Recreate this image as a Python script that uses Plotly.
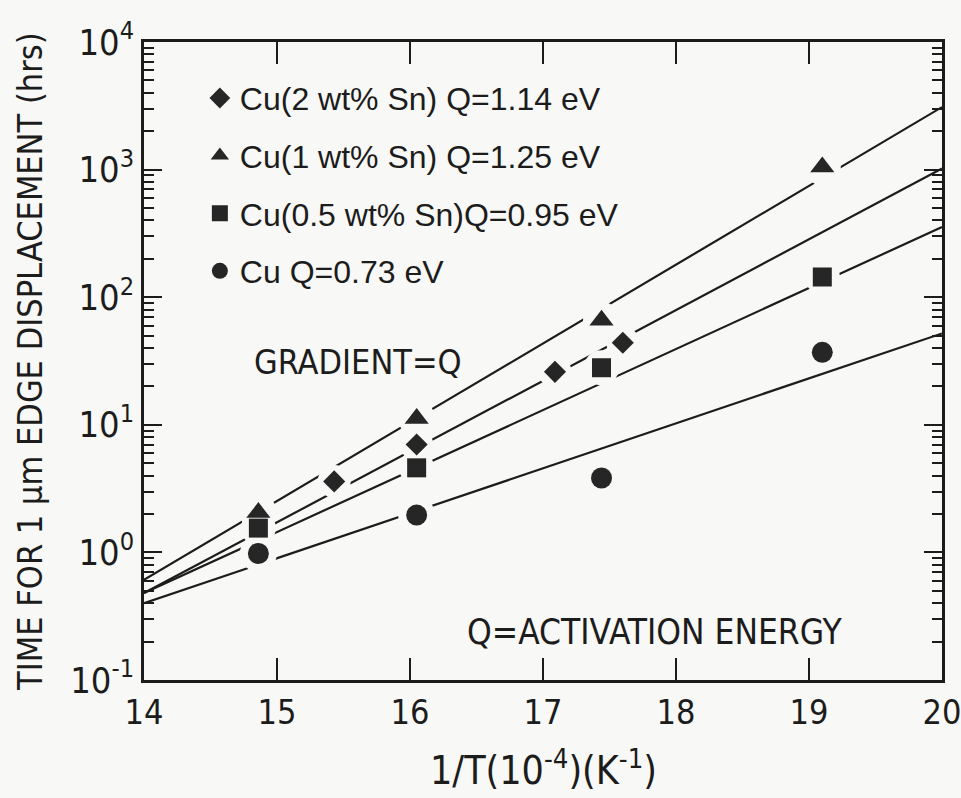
import plotly.graph_objects as go

# Measured times for 1 um edge displacement vs reciprocal temperature
x_sn2 = [15.43, 16.05, 17.09, 17.6]
t_sn2 = [3.6, 7.0, 26, 44]

x_sn1 = [14.86, 16.05, 17.44, 19.1]
t_sn1 = [2.05, 11.2, 66, 1050]

x_sn05 = [14.86, 16.05, 17.44, 19.1]
t_sn05 = [1.55, 4.6, 28, 144]

x_cu = [14.86, 16.05, 17.44, 19.1]
t_cu = [0.98, 1.96, 3.83, 37]

# Arrhenius fit lines, evaluated at the ends of the 1/T range
fit_x = [14, 20]
fit_sn2 = [0.48, 1020]
fit_sn1 = [0.61, 3090]
fit_sn05 = [0.48, 355]
fit_cu = [0.40, 52]

names = [
    "Cu(2 wt% Sn) Q=1.14 eV",
    "Cu(1 wt% Sn) Q=1.25 eV",
    "Cu(0.5 wt% Sn)Q=0.95 eV",
    "Cu Q=0.73 eV",
]

x_ticks = [14, 15, 16, 17, 18, 19, 20]
y_ticks = [0.1, 1, 10, 100, 1000, 10000]
y_ticktext = ["10<sup>-1</sup>", "10<sup>0</sup>", "10<sup>1</sup>",
              "10<sup>2</sup>", "10<sup>3</sup>", "10<sup>4</sup>"]

X_RANGE = [14, 20]
Y_LOG_RANGE = [-1, 4]

INK = "#1c1c1c"
BG = "#f8f8f6"
NARROW = "Liberation Sans Narrow, DejaVu Sans Condensed, Liberation Sans, sans-serif"
WIDE = "Liberation Sans, Arial, sans-serif"

series = [
    (x_sn2, t_sn2, fit_sn2, "diamond", 17),
    (x_sn1, t_sn1, fit_sn1, "triangle-up", 21),
    (x_sn05, t_sn05, fit_sn05, "square", 19),
    (x_cu, t_cu, fit_cu, "circle", 21),
]

minor_vals = []
for dec in [0.1, 1, 10, 100, 1000]:
    for m in range(2, 10):
        minor_vals.append(m * dec)

fig = go.Figure()

# fit lines
for xs, ts, fit, sym, size in series:
    fig.add_trace(go.Scatter(x=fit_x, y=fit, mode="lines",
                             line=dict(color=INK, width=2.2),
                             showlegend=False, hoverinfo="skip"))

# background-coloured halos break the lines around each point
for xs, ts, fit, sym, size in series:
    fig.add_trace(go.Scatter(x=xs, y=ts, mode="markers",
                             marker=dict(symbol="circle", size=size + 16, color=BG),
                             showlegend=False, hoverinfo="skip"))

# data points
for (xs, ts, fit, sym, size), name in zip(series, names):
    fig.add_trace(go.Scatter(x=xs, y=ts, mode="markers", name=name,
                             legendgroup=name,
                             marker=dict(symbol=sym, size=size, color="#262626",
                                         line=dict(width=0))))

# frame with inward ticks on all four sides
fig.update_xaxes(
    range=X_RANGE, tickmode="array", tickvals=x_ticks,
    ticks="inside", ticklen=22, tickwidth=2, tickcolor=INK,
    showline=True, linecolor=INK, linewidth=2.5, mirror="allticks",
    showgrid=False, zeroline=False, automargin=False, layer="above traces",
    tickfont=dict(family=NARROW, size=34, color=INK),
    ticklabeloverflow="allow",
)
fig.update_yaxes(
    type="log", range=Y_LOG_RANGE, tickmode="array", tickvals=y_ticks,
    ticktext=y_ticktext,
    ticks="inside", ticklen=18, tickwidth=2, tickcolor=INK,
    showline=True, linecolor=INK, linewidth=2.5, mirror="allticks",
    showgrid=False, zeroline=False, automargin=False, layer="above traces",
    tickfont=dict(family=NARROW, size=36, color=INK),
    minor=dict(tickmode="array", tickvals=minor_vals, ticks="inside", ticklen=10,
               tickcolor=INK, tickwidth=1.6, showgrid=False),
)

fig.add_annotation(
    text="TIME FOR 1 \u03bcm EDGE DISPLACEMENT (hrs)",
    xref="paper", yref="paper", x=-0.143, y=0.5, textangle=-90,
    showarrow=False, font=dict(family=NARROW, size=34, color=INK),
    xanchor="center", yanchor="middle",
)
fig.add_annotation(
    text="1/T(10<sup>-4</sup>)(K<sup>-1</sup>)",
    xref="paper", yref="paper", x=0.5, y=-0.138,
    showarrow=False, font=dict(family=NARROW, size=39, color=INK),
    xanchor="center", yanchor="middle",
)
fig.add_annotation(
    text="GRADIENT=Q", xref="paper", yref="paper", x=0.268, y=0.498,
    showarrow=False, font=dict(family=NARROW, size=34, color=INK),
    xanchor="center", yanchor="middle",
)
fig.add_annotation(
    text="Q=ACTIVATION ENERGY", xref="paper", yref="paper", x=0.64, y=0.075,
    showarrow=False, font=dict(family=NARROW, size=35, color=INK),
    xanchor="center", yanchor="middle",
)

fig.update_layout(
    width=961, height=798,
    margin=dict(l=144, r=19, t=42, b=118),
    paper_bgcolor=BG, plot_bgcolor=BG,
    legend=dict(x=0.07, y=0.955, xanchor="left", yanchor="top",
                bgcolor="rgba(0,0,0,0)", borderwidth=0,
                font=dict(family=WIDE, size=32, color=INK),
                tracegroupgap=13, itemsizing="trace"),
    showlegend=True,
)

fig.write_html("out.html")
